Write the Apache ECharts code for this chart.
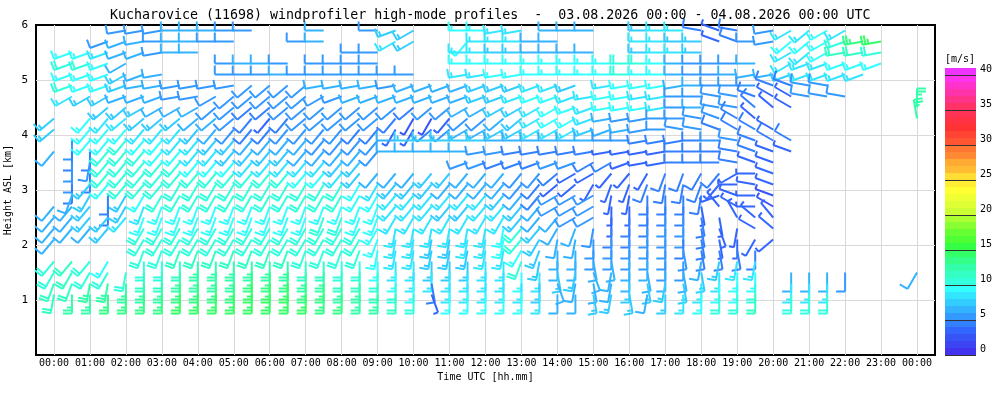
<!DOCTYPE html>
<html lang="en">
<head>
<meta charset="utf-8">
<title>Kucharovice windprofiler</title>
<script src="https://cdn.jsdelivr.net/npm/echarts@6/dist/echarts.min.js"></script>
</head>
<body style="margin:0">
<div id="main" style="width:1000px;height:400px"></div>
<script>
const _ = null;

// profile times [h UTC], one column every 30 min
const times = [0, 0.5, 1, 1.5, 2, 2.5, 3, 3.5, 4, 4.5, 5, 5.5, 6, 6.5, 7, 7.5,
  8, 8.5, 9, 9.5, 10, 10.5, 11, 11.5, 12, 12.5, 13, 13.5, 14, 14.5, 15, 15.5,
  16, 16.5, 17, 17.5, 18, 18.5, 19, 19.5, 20, 20.5, 21, 21.5, 22, 22.5, 23, 23.5, 24];

// range gates [km ASL], top to bottom
const heights = [5.9, 5.7, 5.5, 5.3, 5.1, 4.9, 4.7, 4.5, 4.3, 4.1, 3.9, 3.7, 3.5,
  3.3, 3.1, 2.9, 2.7, 2.5, 2.3, 2.1, 1.9, 1.7, 1.5, 1.3, 1.1];

// wind direction (from), tens of degrees; one row per height, one column per time
const windDir = [
  [_,_,_,_,26,26,26,27, 27,27,27,27,_,_,_,27, _,_,27,25,24,_,_,27, 27,26,26,_,27,27,27,_, _,27,27,27,28,29,28,_, 26,24,23,24,24,_,_,_, _],
  [_,_,_,25,25,26,27,27, 27,27,27,_,_,_,27,27, _,_,_,24,24,_,_,22, 27,27,27,27,27,_,_,_, _,27,27,27,27,29,29,27, 26,23,23,24,25,26,26,_, _],
  [_,25,25,25,25,25,26,27, 27,_,_,_,_,_,_,_, _,27,27,_,_,_,_,27, 27,27,27,27,27,27,27,_, _,27,27,27,27,_,_,_, _,24,23,24,26,26,26,_, _],
  [_,25,25,25,24,_,_,_, _,_,27,27,27,27,_,27, 27,27,27,_,_,_,_,27, 27,27,27,27,27,27,27,27, 27,27,27,27,27,27,27,27, _,24,25,25,25,25,25,_, _],
  [_,25,25,25,24,25,26,_, _,_,27,27,27,27,27,27, 27,27,27,27,27,_,_,26, 26,26,26,27,27,27,27,27, 27,27,27,27,27,27,27,26, 26,25,25,25,25,25,_,_, _],
  [_,25,25,25,25,26,26,26, 26,26,26,23,23,23,23,26, 26,26,26,26,25,25,25,25, 25,25,25,25,25,25,_,26, 26,26,26,26,27,27,27,27, 29,29,28,28,_,_,_,_, _],
  [_,24,24,24,25,25,25,26, 26,24,23,23,23,23,23,24, 25,25,25,25,25,25,25,25, 25,25,25,25,25,25,26,26, 26,26,26,27,27,28,28,29, 30,30,28,28,28,_,_,_, _],
  [_,_,_,23,23,24,24,24, 24,23,23,23,23,23,23,23, 23,23,23,23,23,23,23,24, 24,24,24,24,24,25,25,26, 26,26,26,27,27,28,28,31, 31,30,_,_,_,_,_,_, 36],
  [23,_,22,22,23,23,23,23, 23,23,23,22,22,22,23,23, 23,23,23,22,21,21,22,23, 23,23,23,24,24,24,25,26, 26,26,27,27,28,29,30,31, _,_,_,_,_,_,_,_, 35],
  [23,_,22,22,22,22,22,22, 22,22,22,22,22,22,22,22, 22,22,22,21,21,23,23,24, 24,24,24,24,24,24,25,25, 26,26,27,28,28,29,30,30, 30,_,_,_,_,_,_,_, _],
  [_,18,22,22,22,22,22,22, 22,22,22,22,22,22,22,22, 22,22,22,27,27,27,27,27, 27,27,27,27,27,27,27,27, 27,26,26,26,27,27,28,29, 30,30,_,_,_,_,_,_, _],
  [22,18,18,22,22,22,22,22, 22,22,22,22,22,22,22,22, 22,22,22,27,27,27,27,27, 26,26,26,26,26,26,26,26, 26,26,26,27,27,27,28,29, 29,29,_,_,_,_,_,_, _],
  [_,18,19,22,22,22,22,22, 22,22,22,22,22,22,22,22, 22,22,_,_,_,_,_,25, 25,25,25,25,25,25,24,24, 25,26,26,27,27,27,28,29, 29,_,_,_,_,_,_,_, _],
  [_,18,18,22,22,22,22,22, 22,22,22,22,22,22,22,22, 22,22,22,22,22,22,22,22, 22,22,22,22,23,24,24,22, 22,21,20,20,21,22,24,27, 29,_,_,_,_,_,_,_, _],
  [_,18,22,22,22,22,22,21, 21,21,21,21,21,21,21,21, 21,21,21,22,22,22,22,22, 22,22,22,22,23,23,21,20, 20,20,19,19,20,22,27,28, 29,_,_,_,_,_,_,_, _],
  [_,20,21,18,21,21,21,21, 21,21,21,21,21,21,21,21, 21,21,21,22,22,22,22,22, 22,22,22,22,24,24,24,19, 19,18,18,18,19,25,29,27, 29,_,_,_,_,_,_,_, _],
  [22,22,22,18,21,20,20,20, 20,20,20,20,20,20,20,20, 20,20,20,22,22,22,22,22, 22,22,22,22,24,24,24,18, 18,18,18,18,17,32,30,27, 30,_,_,_,_,_,_,_, _],
  [22,22,22,22,22,20,20,20, 20,20,20,20,20,20,20,20, 20,20,20,21,21,21,21,21, 21,21,22,22,22,24,24,18, 18,18,18,18,17,17,33,31, 32,_,_,_,_,_,_,_, _],
  [22,22,22,22,_,21,21,21, 21,21,21,21,21,21,21,21, 21,21,21,19,19,19,19,19, 19,19,22,22,21,20,19,18, 18,18,18,18,17,16,19,30, 31,_,_,_,_,_,_,_, _],
  [22,_,_,_,_,21,21,21, 21,21,21,21,21,21,21,21, 21,21,20,19,19,19,19,19, 19,19,22,21,19,19,18,18, 18,18,18,18,17,17,18,21, 23,_,_,_,_,_,_,_, _],
  [_,_,_,_,_,20,20,20, 20,20,20,20,20,20,20,20, 20,20,19,19,19,19,19,19, 19,19,21,20,18,18,18,18, 18,18,18,17,17,17,17,18, _,_,_,_,_,_,_,_, _],
  [22,22,22,21,_,18,18,18, 18,18,18,18,18,18,18,18, 18,18,18,18,18,18,18,18, 18,18,20,19,18,18,17,17, 18,18,18,18,19,19,19,19, _,_,_,_,_,_,_,_, _],
  [21,21,21,21,19,18,18,18, 18,18,18,18,18,18,18,18, 18,18,18,18,18,18,18,18, 18,18,18,18,17,19,16,19, 18,17,18,17,17,18,18,18, _,18,18,18,18,_,_,_, 21],
  [20,20,19,19,18,18,18,18, 18,18,18,18,18,18,18,18, 18,18,18,18,18,17,18,18, 18,18,18,18,16,19,17,19, 18,17,19,17,18,18,18,18, _,18,18,18,_,_,_,_, _],
  [19,18,18,18,18,18,18,18, 18,18,18,18,18,18,18,18, 18,18,18,18,18,16,18,18, 18,18,18,18,18,18,17,19, 17,19,18,18,18,18,18,18, _,18,18,18,_,_,_,_, _]
];

// wind speed [m/s], same layout as windDir
const windSpd = [
  [_,_,_,_,5,5,5,6, 6,6,5,5,_,_,_,6, _,_,5,7,7,_,_,9, 9,8,8,_,6,6,6,_, _,7,8,8,4,3,4,_, 5,8,8,9,8,_,_,_, _],
  [_,_,_,5,6,6,5,6, 6,5,5,_,_,_,5,6, _,_,_,8,7,_,_,9, 8,8,8,6,6,_,_,_, _,8,8,7,7,3,4,5, 5,9,9,9,10,13,14,_, _],
  [_,9,9,8,6,6,5,6, 6,_,_,_,_,_,_,_, _,5,5,_,_,_,_,8, 8,7,7,6,6,6,6,_, _,7,8,8,7,_,_,_, _,8,8,9,11,11,10,_, _],
  [_,10,10,9,6,_,_,_, _,_,5,6,6,5,_,5, 5,5,5,_,_,_,_,9, 9,9,9,9,9,9,9,9, 10,10,9,6,5,5,5,6, _,8,8,8,9,9,9,_, _],
  [_,9,9,9,7,6,6,_, _,_,5,5,5,6,5,5, 5,5,5,5,5,_,_,8, 8,9,9,9,9,9,9,9, 10,9,9,6,5,5,6,6, 6,7,8,8,8,8,_,_, _],
  [_,10,9,9,7,6,6,5, 5,5,5,5,5,5,5,6, 6,6,6,5,6,6,6,6, 7,7,7,8,8,7,_,8, 9,9,9,6,6,5,5,5, 4,4,5,5,_,_,_,_, _],
  [_,8,7,7,6,6,6,5, 5,5,5,5,5,5,5,5, 5,6,6,6,6,6,6,6, 7,7,8,9,9,8,8,9, 9,8,8,5,5,5,5,4, 3,3,5,5,5,_,_,_, _],
  [_,_,_,7,7,7,6,6, 6,5,5,4,4,5,5,5, 5,5,5,5,4,5,5,6, 6,7,7,8,9,9,8,9, 9,9,8,5,6,5,5,4, 3,3,_,_,_,_,_,_, 12],
  [7,_,9,8,8,7,7,7, 6,6,5,4,3,4,5,5, 5,5,5,4,2,2,3,5, 5,6,7,8,9,9,8,6, 5,5,5,5,5,5,4,3, _,_,_,_,_,_,_,_, 12],
  [7,_,9,9,9,8,8,8, 7,6,5,4,4,5,5,5, 5,4,4,3,3,4,5,6, 6,7,7,8,8,8,7,6, 6,5,5,5,5,4,4,4, 3,_,_,_,_,_,_,_, _],
  [_,5,9,9,10,9,9,8, 8,7,7,6,6,6,6,5, 5,5,5,6,7,7,7,7, 7,6,6,6,6,6,6,5, 5,4,4,4,4,5,5,4, 4,4,_,_,_,_,_,_, _],
  [6,4,4,10,10,10,9,9, 8,8,7,7,7,7,6,6, 6,6,5,6,6,6,6,6, 5,5,4,4,4,4,4,3, 3,3,3,4,4,4,4,4, 3,3,_,_,_,_,_,_, _],
  [_,5,5,10,10,10,10,10, 9,9,9,8,8,8,8,8, 7,7,_,_,_,_,_,5, 5,4,4,4,5,5,4,4, 3,3,3,4,4,4,4,3, 3,_,_,_,_,_,_,_, _],
  [_,5,4,10,10,10,10,10, 10,10,10,10,10,10,9,9, 8,7,6,6,6,7,7,6, 6,6,5,5,4,3,3,3, 3,3,4,4,4,4,3,3, 3,_,_,_,_,_,_,_, _],
  [_,4,7,9,10,10,10,10, 10,10,10,10,10,10,10,10, 10,9,8,7,7,7,6,6, 6,6,5,4,3,3,3,3, 3,4,4,4,4,3,3,3, 3,_,_,_,_,_,_,_, _],
  [_,6,7,4,7,9,10,10, 10,10,10,10,10,10,10,10, 10,9,9,8,8,8,8,8, 8,7,6,4,5,5,5,3, 3,4,4,4,4,3,3,3, 2,_,_,_,_,_,_,_, _],
  [6,6,7,4,7,8,9,9, 9,9,9,9,9,9,9,9, 9,9,9,8,8,8,7,7, 8,8,7,6,5,5,5,3, 3,4,4,4,3,3,3,3, 2,_,_,_,_,_,_,_, _],
  [6,6,7,7,8,9,9,9, 9,9,9,9,9,9,9,10, 10,9,9,8,8,8,8,8, 8,8,7,6,6,5,5,3, 4,4,5,5,4,3,3,3, 3,_,_,_,_,_,_,_, _],
  [6,6,6,7,_,10,10,10, 10,10,10,10,10,10,10,10, 10,10,9,8,8,8,8,8, 8,9,10,7,6,6,5,4, 4,5,5,5,4,3,3,3, 3,_,_,_,_,_,_,_, _],
  [6,_,_,_,_,10,10,10, 10,10,10,10,10,10,10,10, 10,10,9,8,8,7,7,8, 8,9,10,7,6,6,5,5, 5,5,5,4,4,3,3,3, 3,_,_,_,_,_,_,_, _],
  [_,_,_,_,_,10,10,11, 11,11,11,11,11,11,10,10, 10,10,9,8,8,7,7,7, 8,8,9,7,6,6,5,5, 5,5,5,5,4,4,4,4, _,_,_,_,_,_,_,_, _],
  [10,11,10,9,_,10,10,11, 12,12,12,12,12,12,11,11, 10,10,9,8,8,7,7,7, 8,8,10,7,6,6,6,6, 6,6,5,5,6,7,8,8, _,_,_,_,_,_,_,_, _],
  [10,11,10,10,10,11,11,12, 12,12,12,13,13,13,12,12, 11,11,10,9,8,8,8,8, 8,8,9,8,7,7,6,6, 6,6,6,6,7,8,9,9, _,6,6,6,5,_,_,_, 6],
  [11,11,12,12,12,12,12,13, 13,13,13,14,14,14,13,13, 12,12,11,10,9,4,8,8, 8,8,8,7,6,6,6,6, 7,7,7,7,8,9,9,10, _,8,8,8,_,_,_,_, _],
  [11,12,12,13,13,13,13,14, 14,14,14,14,14,14,14,13, 13,12,12,11,10,3,9,9, 9,9,9,8,6,6,7,7, 7,6,7,8,9,10,10,11, _,10,10,10,_,_,_,_, _]
];

const hourTicks = [0,1,2,3,4,5,6,7,8,9,10,11,12,13,14,15,16,17,18,19,20,21,22,23,24];
const hourLabels = ['00:00','01:00','02:00','03:00','04:00','05:00','06:00','07:00','08:00',
  '09:00','10:00','11:00','12:00','13:00','14:00','15:00','16:00','17:00','18:00','19:00',
  '20:00','21:00','22:00','23:00','00:00'];
const speedTicks = [0, 5, 10, 15, 20, 25, 30, 35, 40];

// one colour per 1 m/s band of the scale, 0..41
const speedColors = ['#4433ee','#3d44f2','#3755f7','#3366ff','#3380ff','#3399ff','#33b3ff','#33ccff',
  '#33e6ff','#33ffff','#33ffdd','#33ffc4','#33ffaa','#33ff88','#33ff66','#33ff44','#4dff33',
  '#66ff33','#88ff33','#aaff33','#ccff33','#ddff33','#eeff33','#ffff33','#ffee33','#ffdd33',
  '#ffbb33','#ffaa33','#ff8833','#ff7733','#ff5533','#ff4433','#ff3333','#ff3344','#ff3355',
  '#ff3366','#ff3388','#ff33aa','#ff33cc','#ff33ee','#ee33ff'];

const mono = 'DejaVu Sans Mono';

function speedColor(v) {
  return speedColors[Math.max(0, Math.min(40, Math.floor(v)))];
}

const barbData = [];
heights.forEach(function (h, r) {
  times.forEach(function (t, c) {
    if (windDir[r][c] !== null) barbData.push([t, h, windDir[r][c] * 10, windSpd[r][c]]);
  });
});

// wind barb: staff points to where the wind comes from, feathers in knots
function renderBarb(params, api) {
  const p = api.coord([api.value(0), api.value(1)]);
  const d = api.value(2) * Math.PI / 180;
  const spd = api.value(3);
  const col = speedColor(spd);
  const sx = Math.sin(d), sy = -Math.cos(d);
  const fx = Math.cos(d), fy = Math.sin(d);
  const L = 19, F = 9, gap = 3;
  const segs = [[p[0], p[1], p[0] + sx * L, p[1] + sy * L]];
  let kt = Math.round(spd * 1.944 / 5) * 5;
  let k = 0;
  while (kt >= 10) {
    const bx = p[0] + sx * (L - k * gap), by = p[1] + sy * (L - k * gap);
    segs.push([bx, by, bx + fx * F, by + fy * F]);
    kt -= 10; k++;
  }
  if (kt >= 5) {
    const bx = p[0] + sx * (L - k * gap), by = p[1] + sy * (L - k * gap);
    segs.push([bx, by, bx + fx * F * 0.55, by + fy * F * 0.55]);
  }
  return {
    type: 'group',
    children: segs.map(function (s) {
      return {
        type: 'line',
        shape: { x1: s[0], y1: s[1], x2: s[2], y2: s[3] },
        style: { stroke: col, lineWidth: 2 }
      };
    })
  };
}

function renderBand(params, api) {
  const i = api.value(0);
  const a = api.coord([0, i]);
  const b = api.coord([1, i + 1]);
  return {
    type: 'rect',
    shape: { x: a[0], y: b[1], width: b[0] - a[0], height: a[1] - b[1] },
    style: { fill: speedColors[i] }
  };
}

const chart = echarts.init(document.getElementById('main'), null, { renderer: 'canvas' });

chart.setOption({
  animation: false,
  backgroundColor: '#fff',
  textStyle: { fontFamily: mono },
  title: {
    text: 'Kucharovice (11698) windprofiler high-mode profiles  -  03.08.2026 00:00 - 04.08.2026 00:00 UTC',
    left: 105,
    top: 4,
    textStyle: { fontFamily: mono, fontSize: 13.3, fontWeight: 'normal', color: '#000' }
  },
  graphic: [{
    type: 'text',
    left: 945,
    top: 54,
    style: { text: '[m/s]', font: '10px "DejaVu Sans Mono"', fill: '#000' }
  }, {
    type: 'text',
    x: 8,
    y: 190,
    rotation: Math.PI / 2,
    style: {
      text: 'Height ASL [km]',
      font: '10px "DejaVu Sans Mono"',
      fill: '#000',
      align: 'center',
      verticalAlign: 'middle'
    }
  }],
  grid: [
    { left: 36, right: 65, top: 25, bottom: 45, show: true, borderColor: '#000', borderWidth: 2,
      containLabel: false, outerBoundsMode: 'none' },
    { left: 945, top: 68, width: 31, height: 287, containLabel: false, outerBoundsMode: 'none' }
  ],
  xAxis: [{
    type: 'value',
    min: -0.5,
    max: 24.5,
    name: 'Time UTC [hh.mm]',
    nameLocation: 'middle',
    nameGap: 15,
    nameTextStyle: { fontFamily: mono, fontSize: 10, color: '#000' },
    axisLine: { show: false },
    axisTick: { show: false, customValues: hourTicks },
    axisLabel: {
      customValues: hourTicks,
      margin: 3,
      fontFamily: mono,
      fontSize: 10,
      color: '#000',
      formatter: function (v) { return hourLabels[hourTicks.indexOf(v)]; }
    },
    splitLine: { show: true, lineStyle: { color: '#d9d9d9', width: 1 } }
  }, {
    gridIndex: 1, type: 'value', min: 0, max: 1, show: false
  }],
  yAxis: [{
    type: 'value',
    min: 0,
    max: 6,
    axisLine: { show: false },
    axisTick: { show: false, customValues: [1, 2, 3, 4, 5] },
    axisLabel: { customValues: [1, 2, 3, 4, 5, 6], margin: 8, fontFamily: mono, fontSize: 11, color: '#000' },
    splitLine: { show: true, lineStyle: { color: '#d9d9d9', width: 1 } }
  }, {
    gridIndex: 1,
    type: 'value',
    min: 0,
    max: 41,
    position: 'right',
    z: 5,
    axisLine: { show: false },
    axisTick: { show: true, length: 15, customValues: speedTicks, lineStyle: { color: '#333', width: 1 } },
    axisLabel: {
      customValues: speedTicks,
      margin: 4,
      fontFamily: mono,
      fontSize: 10,
      color: '#000',
      verticalAlign: 'bottom',
      padding: [0, 0, 1, 0]
    },
    splitLine: { show: true, lineStyle: { color: '#333', width: 1 } }
  }],
  series: [{
    type: 'custom',
    xAxisIndex: 0,
    yAxisIndex: 0,
    renderItem: renderBarb,
    data: barbData,
    z: 3
  }, {
    type: 'custom',
    xAxisIndex: 1,
    yAxisIndex: 1,
    renderItem: renderBand,
    data: speedColors.map(function (c, i) { return [i]; }),
    z: 2
  }]
});
</script>
</body>
</html>
